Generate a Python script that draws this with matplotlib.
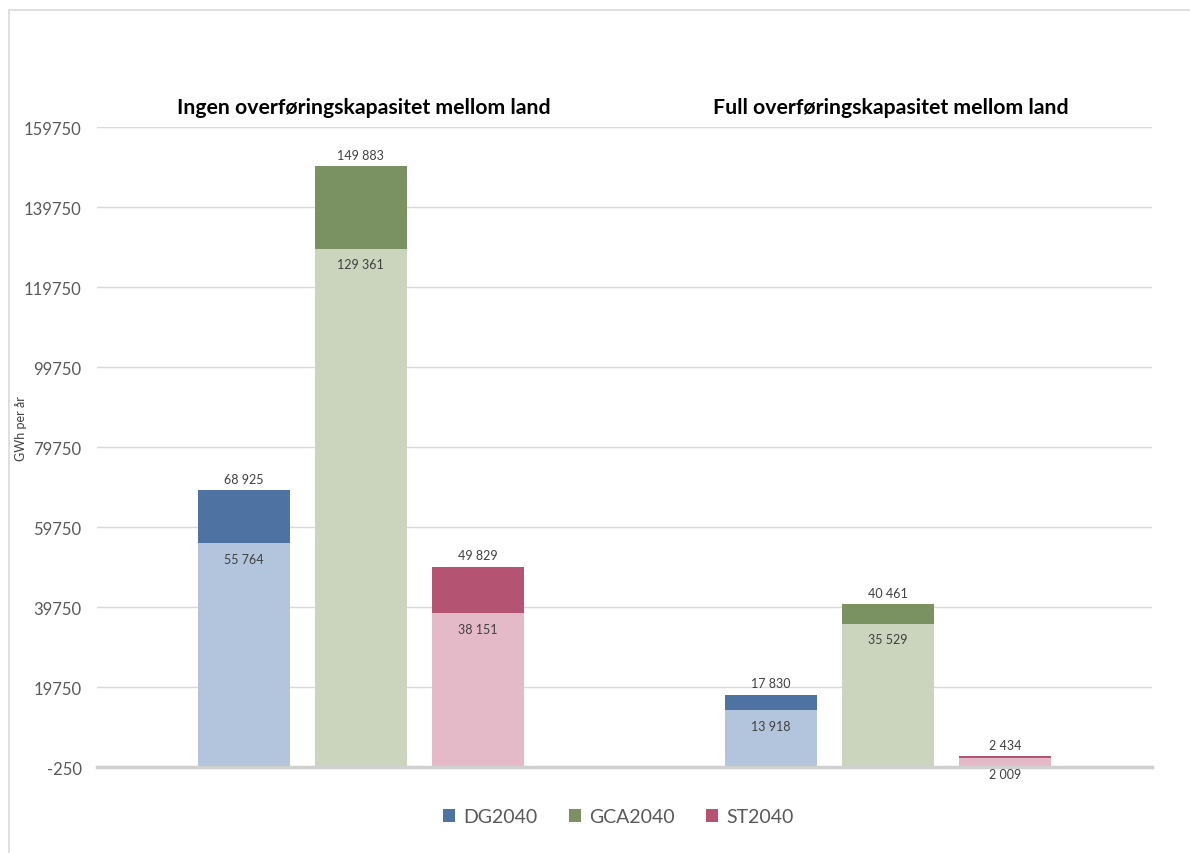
import numpy as np
import matplotlib.pyplot as plt
from matplotlib.patches import Rectangle

plt.rcParams['font.family'] = ['Lato', 'DejaVu Sans']

# data
groups = ["Ingen overføringskapasitet mellom land", "Full overføringskapasitet mellom land"]
scenarios = ["DG2040", "GCA2040", "ST2040"]
base = {
    "DG2040": [55764, 13918],
    "GCA2040": [129361, 35529],
    "ST2040": [38151, 2009],
}
total = {
    "DG2040": [68925, 17830],
    "GCA2040": [149883, 40461],
    "ST2040": [49829, 2434],
}
yticks = [-250, 19750, 39750, 59750, 79750, 99750, 119750, 139750, 159750]

dark = {"DG2040": "#4e73a3", "GCA2040": "#7a9262", "ST2040": "#b55373"}
light = {"DG2040": "#b3c5dc", "GCA2040": "#cbd4bd", "ST2040": "#e5bac8"}


def fmt(v):
    return f"{v:,}".replace(",", " ")


fig = plt.figure(figsize=(11.9, 8.54), dpi=100)
ax = fig.add_axes([0.0815, 0.1007, 0.8865, 0.7494])

# outer frame
fig.patches.append(Rectangle((0.0076, -0.1), 1.1, 1.087, transform=fig.transFigure,
                             fill=False, edgecolor="#d9d9d9", linewidth=1.2))

x = np.arange(len(groups))
offsets = [-0.222, 0, 0.222]
width = 0.174

for off, s in zip(offsets, scenarios):
    b = np.array(base[s])
    t = np.array(total[s])
    ax.bar(x + off, b, width, color=light[s], zorder=3)
    ax.bar(x + off, t - b, width, bottom=b, color=dark[s], label=s, zorder=3)
    for xi, bi, ti in zip(x + off, b, t):
        ax.text(xi, ti + 1300, fmt(ti), ha="center", va="bottom", fontsize=9,
                color="#404040", zorder=6)
        ax.text(xi, bi - 2400, fmt(bi), ha="center", va="top", fontsize=9,
                color="#404040", zorder=6)

ax.set_xlim(-0.5, 1.5)
ax.set_ylim(-250, 159750)
ax.set_yticks(yticks)
ax.set_yticklabels([str(v) for v in yticks], fontsize=12, color="#595959")
ax.tick_params(axis="y", length=0, pad=11)
ax.set_xticks([])
ax.grid(axis="y", color="#d9d9d9", linewidth=1, zorder=0)
for sp in ["top", "right", "left"]:
    ax.spines[sp].set_visible(False)
ax.spines["bottom"].set_color("#d0d0d0")
ax.spines["bottom"].set_linewidth(2.5)
ax.spines["bottom"].set_zorder(4)

ax.set_ylabel("GWh per år", fontsize=9, color="#404040", labelpad=14)
ax.yaxis.set_label_coords(-0.066, 0.53)

for xi, g in zip(x, groups):
    ax.text(xi + 0.005, 164750, g, ha="center", va="center", fontsize=15.3,
            fontweight="bold", color="black")

ax.legend(loc="center", bbox_to_anchor=(0.494, -0.0775), ncol=3, frameon=False,
          fontsize=14, handlelength=0.65, handleheight=0.65, handletextpad=0.4,
          columnspacing=1.6, labelcolor="#595959")

fig.savefig("out.png", dpi=100)
